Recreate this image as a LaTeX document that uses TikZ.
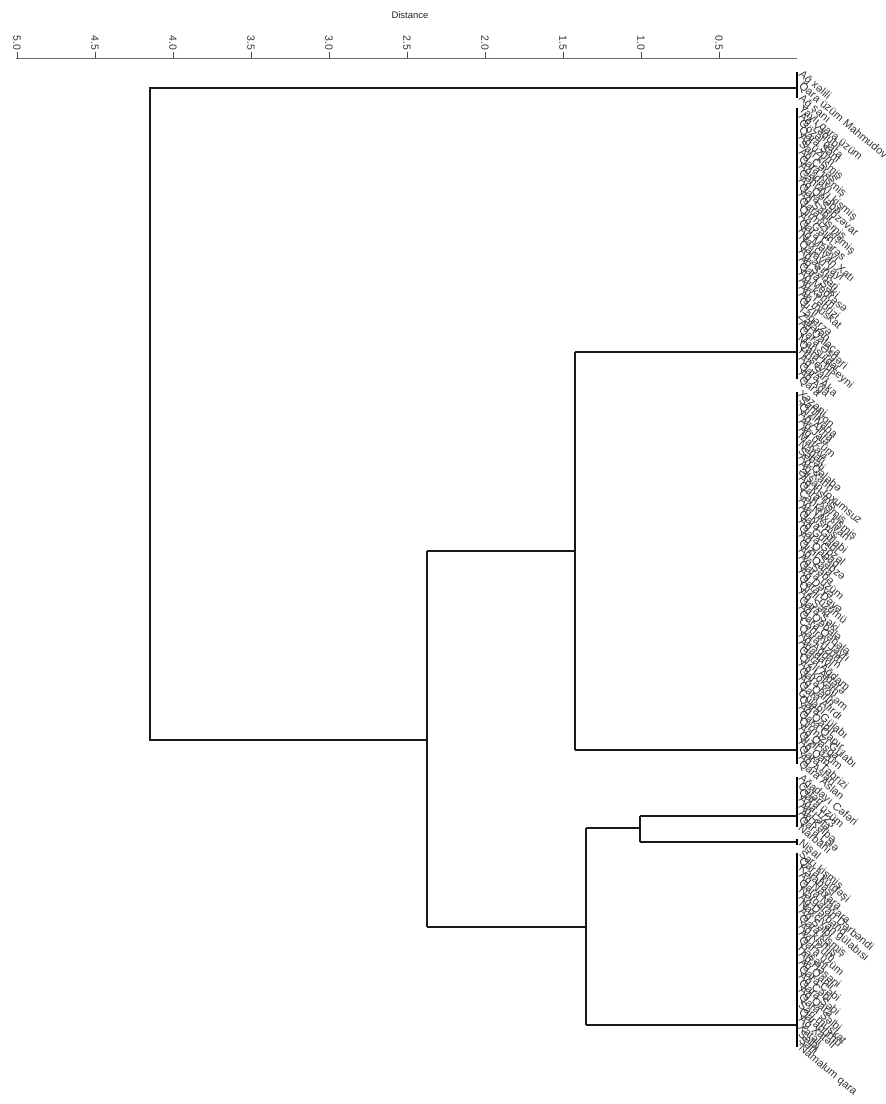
\documentclass[tikz,border=0pt]{standalone}
\usepackage{fontspec}
\setmainfont{Liberation Sans}
\newfontfamily\labfont{Liberation Sans}
\begin{document}
\begin{tikzpicture}[x=1pt,y=-1pt,
  branch/.style={line width=1.8pt,black!90},
  leafbar/.style={line width=2.8pt,black},
  axisline/.style={line width=0.8pt,black!60},
  tickmark/.style={line width=0.9pt,black!70},
  ticklab/.style={rotate=-90,anchor=east,font=\labfont\fontsize{10.5}{10.5}\selectfont,inner sep=1pt,text=black!80},
  leaf/.style={rotate=-40,anchor=west,inner sep=0pt,font=\labfont\fontsize{11}{11}\selectfont,text=black!80}]
\useasboundingbox (0,0) rectangle (886,1104);
% axis
\node[font=\labfont\fontsize{9.5}{9.5}\selectfont,text=black!85] (title) at (410,15) {Distance};
\coordinate (axL) at (16,58);
\coordinate (axR) at (797,58);
\draw[axisline] (axL) -- (axR);
\foreach \v/\t [count=\k] in {5.0/5.0,4.5/4.5,4.0/4.0,3.5/3.5,3.0/3.0,2.5/2.5,2.0/2.0,1.5/1.5,1.0/1.0,0.5/0.5}{
  \coordinate (tk\k) at ({797-156*\v},58);
  \draw[tickmark] (tk\k) -- ++(0,-6) node[ticklab] (tl\k) {\t};
}
% junction coordinates
\coordinate (A) at (797,88);
\coordinate (Aj) at (150,88);
\coordinate (rootB) at (150,740);
\coordinate (n1) at (427,740);
\coordinate (n1t) at (427,551);
\coordinate (n1b) at (427,927);
\coordinate (n2) at (575,551);
\coordinate (n2t) at (575,352);
\coordinate (n2b) at (575,750);
\coordinate (B) at (797,352);
\coordinate (C) at (797,750);
\coordinate (n3) at (586,927);
\coordinate (n3t) at (586,828);
\coordinate (n3b) at (586,1025);
\coordinate (n4) at (640,828);
\coordinate (n4t) at (640,816);
\coordinate (n4b) at (640,842);
\coordinate (D) at (797,816);
\coordinate (S) at (797,842);
\coordinate (E) at (797,1025);
% branches
\draw[branch] (A) -- (Aj) -- (rootB) -- (n1);
\draw[branch] (n1t) -- (n1b);
\draw[branch] (n1t) -- (n2) ;
\draw[branch] (n2t) -- (n2b);
\draw[branch] (n2t) -- (B);
\draw[branch] (n2b) -- (C);
\draw[branch] (n1b) -- (n3);
\draw[branch] (n3t) -- (n3b);
\draw[branch] (n3t) -- (n4);
\draw[branch] (n4t) -- (n4b);
\draw[branch] (n4t) -- (D);
\draw[branch] (n4b) -- (S);
\draw[branch] (n3b) -- (E);
% leaf bars
\coordinate (Aa) at (797,72); \coordinate (Az) at (797,98);
\coordinate (Ba) at (797,108); \coordinate (Bz) at (797,379);
\coordinate (Ca) at (797,392); \coordinate (Cz) at (797,764);
\coordinate (Da) at (797,777); \coordinate (Dz) at (797,827);
\coordinate (Sa) at (797,839); \coordinate (Sz) at (797,845);
\coordinate (Ea) at (797,853); \coordinate (Ez) at (797,1047);
\draw[leafbar] (Aa) -- (Az);
\draw[leafbar] (Ba) -- (Bz);
\draw[leafbar] (Ca) -- (Cz);
\draw[leafbar] (Da) -- (Dz);
\draw[leafbar] (Sa) -- (Sz);
\draw[leafbar] (Ea) -- (Ez);
% leaves
\foreach \n [count=\i] in {Ağ xəlili,Qara üzüm Mahmudov,Ağ şanı}
  \node[leaf] (la\i) at (800,{73+(\i-1)*12}) {\n};
\foreach \n [count=\i] in {Yaylı qara üzüm,Ağ Yəqubi,Gözəl qara,Qara Şanı,Ağ üzüm,Sarı kişmiş,Ağ Çərəs,Qara kişmiş,Ağadayı,Çəhrayı kişmiş,Ağ Qələbə,Qara Səbzəvar,Ağ Sabir,Qara kişmiş,Qırmızı kişmiş,Ağ Gəlin,Qara Çərəs,Ağ Mələyi,Naxçıvan Xatı,Qarayi yayi,Ağ aşına,Ağ Şəhəri,Qara Şəki,Ağ Mədrəsə,Ağ kərim,Ağ Təbrizi,Ağ muskat,Qızıl,Təbərzə,Zəfəran,Ağ Qalaça,Qara Əsgəri,Mahsuldar,Qara Hüseyni,Hüseyni,Ağ Sarı,Qara Aka,Ağ Ağa,Qara}
  \node[leaf] (lb\i) at (800,{108+(\i-1)*7.13}) {\n};
\foreach \n [count=\i] in {Xəzani,Şahilyon,Qızılvana,Ağ Alma,Ağ Jalə,Ağ üzüm,Makavi,Nəbati,Səbəti,Ağ Qələbə,Ağ Xatın,Əfsan toxumsuz,Ağ kişmiş,Qara kişmiş,Çəhrayı kişmiş,Ağ Naxçıvan,Ağ kişmiş,Qara Gülabi,Ağ Gülabi,Qara Gözəl,Ağ Qabaq,Qızıl Səbzə,Ağ Qara,Ağ Səbə,Qara üzüm,Ağ Dəyə,Qara Dəyə,Qızıl üzümü,Ağ Şəki,Qara Şəki,Ağ Qəbələ,Qara Qəbələ,Cəhrayı tayfı,Qara üzüm,Ağ Ağdam,Ağadayı,Qara Ağdam,Qızıl Aldərə,Ağ kökəm,Qara kökəm,Ağ Qalın,Qara Alırdı,Gülabı,Qara Gülabı,Ağ Qapır,Qara Qapır,Qırmızı Gülabı,Ağ Qaşqa,Qızıl üzüm,Ağ Qan,Qara Təbrizi,Ağ Aslan,Qara Aslan}
  \node[leaf] (lc\i) at (800,{392+(\i-1)*7.13}) {\n};
\foreach \n [count=\i] in {Ağadayı Cəfəri,Cəfəri,Qara üzüm,Ağa 1/23,Ağ Lələ,Ağ Kəlbə,Qara Lələ,Narbahı}
  \node[leaf] (ld\i) at (800,{777+(\i-1)*7}) {\n};
\node[leaf] (ls1) at (800,842) {Nişal};
\foreach \n [count=\i] in {Sarı kişmiş,Qara kürdəşi,Kərabaşı,Ağ Naxara,Qara Naxara,Nərgaran Dərbəndi,Ağ Dərbənd,Naxçıvan gülabısı,Ağ Səlbi,Qara kişmiş,Ağ kişmiş,Ağ üzüm,Qara üzüm,Həsəni,Ağ Həsəni,Ağ Qanlı,Qara Cəbi,Ağ Cəbi,Qara Səbi,Ağ Qara,Qara Səlbi,Sarı muskat,Qarabürnü,Ağ Xatəli,Xatəli,Səlbi,Şəlli,Namalum qara}
  \node[leaf] (le\i) at (800,{853+(\i-1)*7.18}) {\n};
\end{tikzpicture}
\end{document}
